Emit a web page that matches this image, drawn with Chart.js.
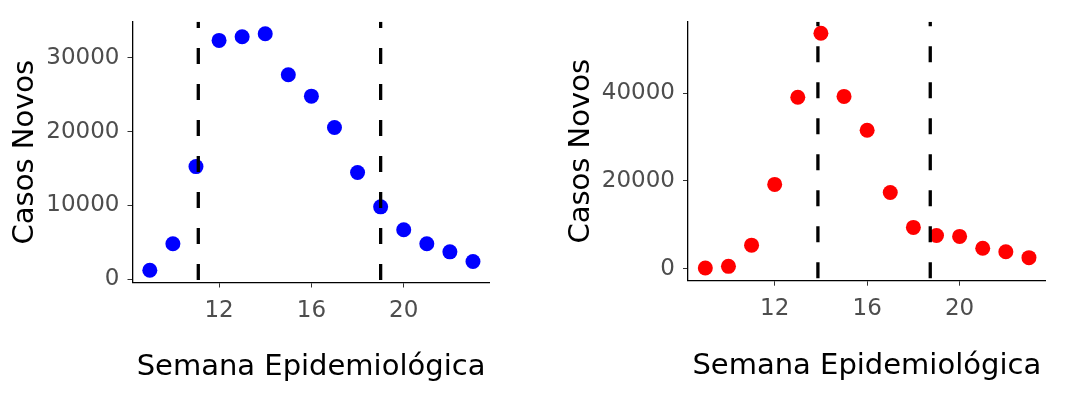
<!DOCTYPE html>
<html>
<head>
<meta charset="utf-8">
<script src="https://cdn.jsdelivr.net/npm/chart.js@4/dist/chart.umd.min.js"></script>
<style>
  body { margin: 0; background: #fff; }
  #wrap { position: relative; width: 1078px; height: 406px; }
  canvas { position: absolute; top: 0; }
  #c1 { left: 0; }
  #c2 { left: 539px; }
</style>
</head>
<body>
<div id="wrap">
  <canvas id="c1" width="539" height="406"></canvas>
  <canvas id="c2" width="539" height="406"></canvas>
</div>
<script>
// Semanas epidemiológicas (eixo x)
const semanas = [9, 10, 11, 12, 13, 14, 15, 16, 17, 18, 19, 20, 21, 22, 23];

// Casos novos por semana
const casosAzul = [1200, 4800, 15250, 32350, 32850, 33250, 27700, 24800, 20550, 14450, 9800, 6700, 4800, 3700, 2400];
const casosVermelho = [150, 520, 5350, 19200, 39050, 53650, 39250, 31550, 17350, 9400, 7550, 7350, 4650, 3850, 2500];

// Linhas verticais tracejadas (semanas)
const cortesAzul = [11.1, 19.0];
const cortesVermelho = [13.87, 18.73];

// Marcas dos eixos
const ticksX = [12, 16, 20];
const ticksAzul = [0, 10000, 20000, 30000];
const ticksVermelho = [0, 20000, 40000];

// Rótulos dos eixos
const tituloX = "Semana Epidemiológica";
const tituloY = "Casos Novos";

const fonte = "DejaVu Sans";

function pontos(valores) {
  return semanas.map((s, i) => ({ x: s, y: valores[i] }));
}

function linhaVertical(x, ymin, ymax) {
  return {
    data: [{ x: x, y: ymin }, { x: x, y: ymax }],
    showLine: true,
    pointRadius: 0,
    borderColor: "#000",
    borderWidth: 3.3,
    borderDash: [16, 20],
    borderDashOffset: 33.5,
  };
}

function grafico(canvas, valores, cor, cortes, y, cfg) {
  new Chart(canvas, {
    type: "scatter",
    data: {
      datasets: [
        ...cortes.map(c => linhaVertical(c, y.min, y.max)),
        {
          data: pontos(valores),
          backgroundColor: cor,
          borderColor: cor,
          pointRadius: 7.5,
          pointBorderWidth: 0,
        },
      ],
    },
    options: {
      responsive: false,
      animation: false,
      layout: { padding: { top: cfg.top, right: cfg.right, left: 0, bottom: 0 } },
      plugins: { legend: { display: false }, tooltip: { enabled: false } },
      scales: {
        x: {
          type: "linear",
          min: 8.25,
          max: 23.72,
          border: { display: true, color: "#000", width: 1.3 },
          grid: { drawOnChartArea: false, drawTicks: true, tickLength: 5, color: "#333" },
          ticks: { padding: 10, color: "#4d4d4d", font: { family: fonte, size: 23 } },
          afterBuildTicks: s => { s.ticks = ticksX.map(v => ({ value: v })); },
          title: { display: true, text: tituloX, color: "#000", font: { family: fonte, size: 29 }, padding: { top: 0, bottom: cfg.xTitlePad } },
          afterFit: s => { s.height = cfg.xHeight; },
        },
        y: {
          type: "linear",
          min: y.min,
          max: y.max,
          border: { display: true, color: "#000", width: 1.3 },
          grid: { drawOnChartArea: false, drawTicks: true, tickLength: 5, color: "#333" },
          ticks: { padding: 8, color: "#4d4d4d", font: { family: fonte, size: 23 }, callback: v => String(v) },
          afterBuildTicks: s => { s.ticks = y.ticks.map(v => ({ value: v })); },
          title: { display: true, text: tituloY, color: "#000", font: { family: fonte, size: 29 }, padding: { top: cfg.yTitlePad, bottom: 0 } },
          afterFit: s => { s.width = cfg.yWidth; },
        },
      },
    },
  });
}

grafico(document.getElementById("c1"), casosAzul, "#0000ff", cortesAzul,
  { min: -450, max: 34870, ticks: ticksAzul },
  { top: 17, right: 49.4, xHeight: 123.5, yWidth: 132.5, xTitlePad: 21, yTitlePad: 8 });

grafico(document.getElementById("c2"), casosVermelho, "#ff0000", cortesVermelho,
  { min: -2750, max: 56250, ticks: ticksVermelho },
  { top: 15, right: 32.4, xHeight: 125.3, yWidth: 149, xTitlePad: 22.5, yTitlePad: 25.5 });
</script>
</body>
</html>
